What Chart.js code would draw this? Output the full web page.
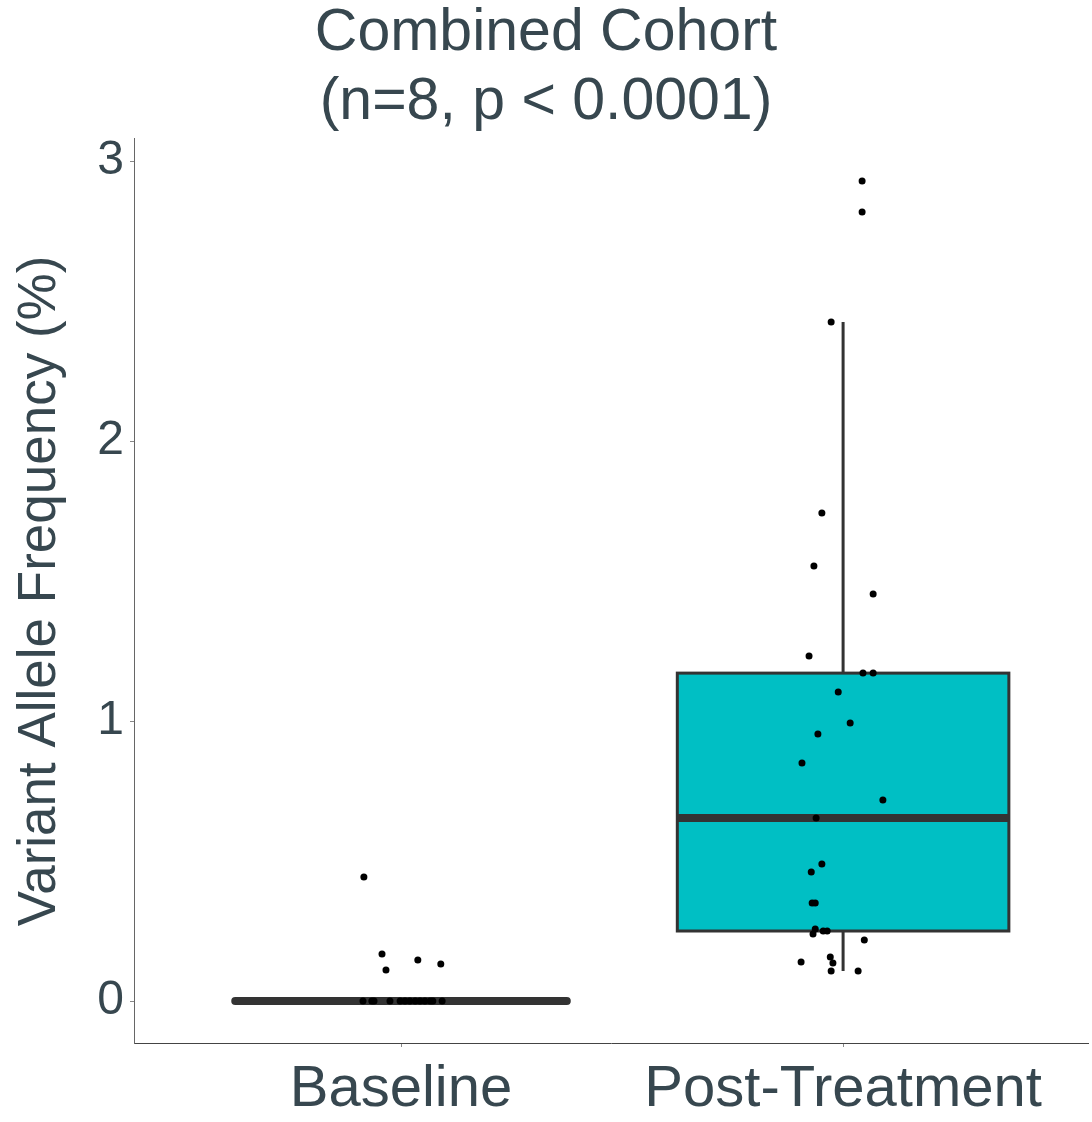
<!DOCTYPE html>
<html>
<head>
<meta charset="utf-8">
<script src="https://cdn.jsdelivr.net/npm/chart.js@4.4.1/dist/chart.umd.min.js"></script>
<style>
  body { margin: 0; background: #fff; }
  #wrap { width: 1092px; height: 1122px; }
</style>
</head>
<body>
<div id="wrap"><canvas id="chart"></canvas></div>
<script>
const categories = ['Baseline', 'Post-Treatment']
const yTicks = [0, 1, 2, 3]

// jittered points, x offset from the group centre and VAF (%)
const baselineJitter = [-0.084, -0.043, -0.034, 0.038, 0.09,
  -0.086, -0.066, -0.061, -0.025, -0.002, 0.009, 0.02, 0.032, 0.043, 0.054, 0.066, 0.072, 0.093]
const baselineVaf = [0.443, 0.168, 0.111, 0.146, 0.132,
  0, 0, 0, 0, 0, 0, 0, 0, 0, 0, 0, 0, 0]

const postJitter = [0.043, 0.043, -0.027, -0.048, -0.066, 0.068, -0.077, 0.045, 0.068, -0.011,
  0.016, -0.057, -0.093, 0.09, -0.061, -0.048, -0.072, -0.07, -0.063, -0.063,
  -0.068, -0.045, -0.036, 0.048, -0.029, -0.023, -0.095, -0.027, 0.034]
const postVaf = [2.929, 2.818, 2.425, 1.743, 1.554, 1.454, 1.232, 1.171, 1.171, 1.104,
  0.993, 0.954, 0.85, 0.718, 0.654, 0.489, 0.461, 0.35, 0.35, 0.257,
  0.239, 0.25, 0.25, 0.218, 0.157, 0.136, 0.139, 0.107, 0.107]

// box statistics per category
const whiskerLow = [0, 0.107]
const q1 = [0, 0.25]
const medians = [0, 0.654]
const q3 = [0, 1.171]
const whiskerHigh = [0, 2.425]

const textColor = '#37474F'
const fontFamily = '"Liberation Sans", Arial, sans-serif'

function toPoints (center, jitter, values) {
  return values.map((v, i) => ({ x: center + jitter[i], y: v }))
}

const boxPlugin = {
  id: 'boxes',
  beforeDatasetsDraw (chart) {
    const { ctx, scales: { x, y } } = chart
    const half = 0.375
    ctx.save()
    categories.forEach((c, i) => {
      const cx = x.getPixelForValue(i + 1)
      const left = x.getPixelForValue(i + 1 - half)
      const right = x.getPixelForValue(i + 1 + half)
      const top = y.getPixelForValue(q3[i])
      const bottom = y.getPixelForValue(q1[i])

      ctx.strokeStyle = '#333333'
      ctx.lineWidth = 3
      ctx.beginPath()
      ctx.moveTo(cx, y.getPixelForValue(whiskerHigh[i]))
      ctx.lineTo(cx, top)
      ctx.moveTo(cx, bottom)
      ctx.lineTo(cx, y.getPixelForValue(whiskerLow[i]))
      ctx.stroke()

      ctx.fillStyle = '#00BFC4'
      ctx.fillRect(left, top, right - left, bottom - top)
      ctx.strokeRect(left, top, right - left, bottom - top)

      // flat boxes (all values equal) end in rounded caps
      ctx.lineWidth = 8
      ctx.lineCap = q3[i] === q1[i] ? 'round' : 'butt'
      ctx.beginPath()
      ctx.moveTo(left, y.getPixelForValue(medians[i]))
      ctx.lineTo(right, y.getPixelForValue(medians[i]))
      ctx.stroke()
      ctx.lineCap = 'butt'
    })
    ctx.restore()
  }
}

new Chart(document.getElementById('chart'), {
  type: 'scatter',
  data: {
    datasets: [
      {
        label: categories[0],
        data: toPoints(1, baselineJitter, baselineVaf),
        backgroundColor: '#000',
        borderWidth: 0,
        pointRadius: 3.5
      },
      {
        label: categories[1],
        data: toPoints(2, postJitter, postVaf),
        backgroundColor: '#000',
        borderWidth: 0,
        pointRadius: 3.5
      }
    ]
  },
  options: {
    responsive: true,
    maintainAspectRatio: false,
    animation: false,
    layout: { padding: 0 },
    scales: {
      x: {
        type: 'linear',
        min: 0.396,
        max: 2.554,
        afterBuildTicks: scale => { scale.ticks = categories.map((c, i) => ({ value: i + 1 })) },
        afterFit: scale => { scale.height = 79 },
        ticks: {
          callback: v => categories[v - 1],
          font: { family: fontFamily, size: 58 },
          color: textColor,
          padding: 8,
          maxRotation: 0,
          autoSkip: false
        },
        grid: { drawOnChartArea: false, tickLength: 4, color: '#888' },
        border: { color: '#444', width: 1 }
      },
      y: {
        min: -0.15,
        max: 3.079,
        afterBuildTicks: scale => { scale.ticks = yTicks.map(v => ({ value: v })) },
        afterFit: scale => { scale.width = 134 },
        ticks: {
          font: { family: fontFamily, size: 48 },
          color: textColor,
          padding: 6
        },
        grid: { drawOnChartArea: false, tickLength: 4, color: '#888' },
        border: { color: '#666', width: 1 },
        title: {
          display: true,
          text: 'Variant Allele Frequency (%)',
          font: { family: fontFamily, size: 53 },
          color: textColor,
          padding: { top: 9, bottom: 0 }
        }
      }
    },
    plugins: {
      legend: { display: false },
      tooltip: { enabled: false },
      title: {
        display: true,
        text: ['Combined Cohort', '(n=8, p < 0.0001)'],
        font: { family: fontFamily, size: 59, weight: 'normal', lineHeight: 1.16 },
        color: textColor,
        padding: { top: 0, bottom: 2 }
      }
    }
  },
  plugins: [boxPlugin]
})
</script>
</body>
</html>
